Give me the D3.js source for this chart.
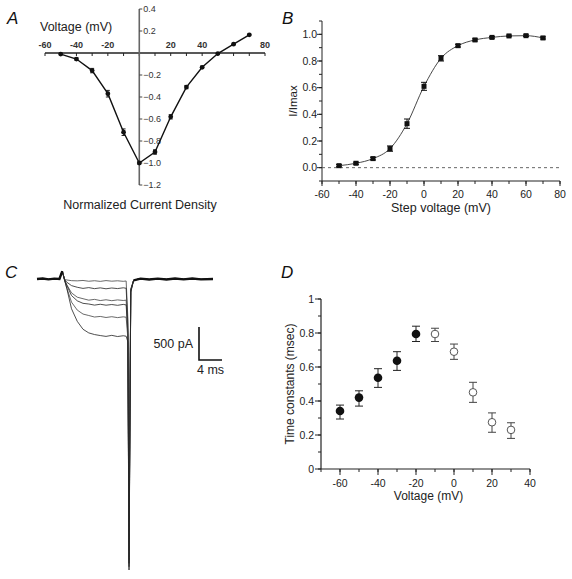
<!DOCTYPE html>
<html><head><meta charset="utf-8">
<script src="https://cdn.jsdelivr.net/npm/d3@7"></script>
<style>
html,body{margin:0;padding:0;background:#fff;}
svg{display:block;font-family:"Liberation Sans",Arial,sans-serif;}
</style></head>
<body>
<svg id="c" width="572" height="579"></svg>
<script>
// ---------- Panel A: I-V relation ----------
const ivVoltage = [-50, -40, -30, -20, -10, 0, 10, 20, 30, 40, 50, 60, 70];
const ivCurrent = [-0.01, -0.055, -0.16, -0.37, -0.72, -1.0, -0.90, -0.58, -0.31, -0.13, -0.005, 0.08, 0.165];
const ivErr     = [0.005, 0.01, 0.02, 0.03, 0.03, 0.01, 0.02, 0.02, 0.015, 0.01, 0.005, 0.005, 0.005];
const aXLabels = [-60, -40, -20, 20, 40, 80];
const aYLabels = [0.4, 0.2, -0.2, -0.4, -0.6, -0.8, -1.0, -1.2];

// ---------- Panel B: activation ----------
const actVoltage = [-50, -40, -30, -20, -10, 0, 10, 20, 30, 40, 50, 60, 70];
const actValue   = [0.015, 0.033, 0.068, 0.143, 0.33, 0.61, 0.82, 0.915, 0.958, 0.977, 0.988, 0.99, 0.973];
const actErr     = [0.008, 0.008, 0.01, 0.02, 0.035, 0.03, 0.02, 0.01, 0.008, 0.006, 0.006, 0.006, 0.008];
const bXTicks = [-60, -40, -20, 0, 20, 40, 60, 80];
const bYTicks = [0.0, 0.2, 0.4, 0.6, 0.8, 1.0];

// ---------- Panel C: current traces (time ms, current pA) ----------
const traceTime = [0, 1, 2, 3, 3.9, 4.4, 4.8, 5.2, 6, 7, 8, 9, 10, 11, 12, 13, 14, 15, 15.5, 15.8, 16.0, 16.3, 16.8, 18, 19.5, 21, 22.5, 24, 25.5, 27, 28.5, 30.6];
const traces = [
  [0, 8, -6, 6, 0, 120, -5, -15, -25, -28, -22, -34, -26, -36, -24, -33, -27, -35, -30, -600, -3900, -150, -20, 6, -8, 5, -7, 8, -5, 7, -6, 0],
  [0, 8, -6, 6, 0, 120, -10, -50, -100, -125, -142, -130, -146, -134, -148, -136, -145, -133, -140, -700, -4100, -160, -20, 6, -8, 5, -7, 8, -5, 7, -6, 0],
  [0, 8, -6, 6, 0, 120, -15, -90, -210, -275, -298, -320, -308, -326, -314, -328, -316, -325, -320, -800, -4250, -170, -20, 6, -8, 5, -7, 8, -5, 7, -6, 0],
  [0, 8, -6, 6, 0, 120, -15, -100, -250, -330, -368, -378, -395, -382, -396, -386, -398, -384, -392, -850, -4300, -180, -20, 6, -8, 5, -7, 8, -5, 7, -6, 0],
  [0, 8, -6, 6, 0, 120, -20, -140, -350, -470, -530, -552, -575, -566, -582, -570, -584, -572, -578, -900, -4350, -190, -20, 6, -8, 5, -7, 8, -5, 7, -6, 0],
  [0, 8, -6, 6, 0, 120, -20, -150, -450, -640, -760, -815, -840, -855, -868, -852, -870, -858, -865, -950, -4400, -200, -20, 6, -8, 5, -7, 8, -5, 7, -6, 0]
];
const scaleBarPA = 500;
const scaleBarMS = 4;

// ---------- Panel D: time constants ----------
const tauVoltFilled = [-60, -50, -40, -30, -20];
const tauFilled     = [0.341, 0.42, 0.537, 0.637, 0.794];
const tauFilledLo   = [0.294, 0.37, 0.48, 0.58, 0.75];
const tauFilledHi   = [0.376, 0.46, 0.59, 0.69, 0.84];
const tauVoltOpen = [-10, 0, 10, 20, 30];
const tauOpen     = [0.794, 0.69, 0.451, 0.275, 0.23];
const tauOpenLo   = [0.75, 0.645, 0.392, 0.216, 0.18];
const tauOpenHi   = [0.828, 0.735, 0.51, 0.33, 0.272];
const dXTicks = [-60, -40, -20, 0, 20, 40];
const dYTicks = [0, 0.2, 0.4, 0.6, 0.8, 1];

const svg = d3.select("#c");

function panelLetter(t, x, y) {
  svg.append("text").attr("x", x).attr("y", y).text(t)
    .attr("font-size", 17).attr("font-style", "italic").attr("fill", "#111");
}

// ===== Panel A =====
{
  const x = d3.scaleLinear([-60, 80], [45, 265]);
  const y = d3.scaleLinear([0.4, -1.2], [9, 185]);
  const g = svg.append("g");
  g.append("line").attr("x1", x(-60)).attr("x2", x(80)).attr("y1", y(0)).attr("y2", y(0))
    .attr("stroke", "#222").attr("stroke-width", 1.3);
  g.selectAll(".xt").data(d3.range(-60, 81, 10)).join("line")
    .attr("x1", d => x(d)).attr("x2", d => x(d)).attr("y1", y(0)).attr("y2", y(0) + 3)
    .attr("stroke", "#222").attr("stroke-width", 1);
  g.selectAll(".xl").data(aXLabels).join("text")
    .attr("x", d => x(d)).attr("y", y(0) - 5).attr("text-anchor", "middle")
    .attr("font-size", 9).attr("font-weight", "bold").attr("fill", "#333").text(d => d);
  g.append("line").attr("x1", x(0)).attr("x2", x(0)).attr("y1", y(0.4)).attr("y2", y(-1.2))
    .attr("stroke", "#666").attr("stroke-width", 1.6);
  g.selectAll(".yt").data(aYLabels).join("line")
    .attr("x1", x(0)).attr("x2", x(0) + 3).attr("y1", d => y(d)).attr("y2", d => y(d))
    .attr("stroke", "#444");
  g.selectAll(".yl").data(aYLabels).join("text")
    .attr("x", x(0) + 4).attr("y", d => y(d)).attr("dy", "0.35em")
    .attr("font-size", 9).attr("fill", "#333").text(d => d3.format(".1f")(d));
  const pts = ivVoltage.map((v, i) => [v, ivCurrent[i], ivErr[i]]);
  g.append("path").datum(pts).attr("fill", "none").attr("stroke", "#111").attr("stroke-width", 1.4)
    .attr("d", d3.line().x(d => x(d[0])).y(d => y(d[1])));
  g.selectAll(".eb").data(pts).join("path").attr("fill", "none").attr("stroke", "#111").attr("stroke-width", 0.9)
    .attr("d", d => `M${x(d[0]) - 2},${y(d[1] + d[2])}H${x(d[0]) + 2}M${x(d[0])},${y(d[1] + d[2])}V${y(d[1] - d[2])}M${x(d[0]) - 2},${y(d[1] - d[2])}H${x(d[0]) + 2}`);
  g.selectAll(".pt").data(pts).join("circle").attr("cx", d => x(d[0])).attr("cy", d => y(d[1]))
    .attr("r", 2.4).attr("fill", "#111");
  g.append("text").attr("x", 40).attr("y", 31).attr("font-size", 12.5).attr("fill", "#222").text("Voltage (mV)");
  g.append("text").attr("x", 140).attr("y", 209).attr("text-anchor", "middle").attr("font-size", 12.5)
    .attr("fill", "#222").text("Normalized Current Density");
  panelLetter("A", 7, 24);
}

// ===== Panel B =====
{
  const x = d3.scaleLinear([-60, 80], [322, 560]);
  const y = d3.scaleLinear([-0.1, 1.1], [181, 21]);
  const g = svg.append("g");
  g.append("line").attr("x1", x(-60)).attr("x2", x(-60)).attr("y1", y(1.1)).attr("y2", y(-0.1)).attr("stroke", "#222");
  g.append("line").attr("x1", x(-60)).attr("x2", x(80)).attr("y1", y(-0.1)).attr("y2", y(-0.1)).attr("stroke", "#222");
  g.selectAll(".ymt").data(d3.range(-0.1, 1.11, 0.1)).join("line")
    .attr("x1", x(-60) - 3).attr("x2", x(-60)).attr("y1", d => y(d)).attr("y2", d => y(d)).attr("stroke", "#222");
  g.selectAll(".yt").data(bYTicks).join("line")
    .attr("x1", x(-60) - 5).attr("x2", x(-60)).attr("y1", d => y(d)).attr("y2", d => y(d)).attr("stroke", "#222");
  g.selectAll(".yl").data(bYTicks).join("text").attr("x", x(-60) - 5).attr("y", d => y(d)).attr("dy", "0.35em")
    .attr("text-anchor", "end").attr("font-size", 10.5).attr("fill", "#222").text(d => d3.format(".1f")(d));
  g.selectAll(".xmt").data(d3.range(-60, 81, 10)).join("line")
    .attr("x1", d => x(d)).attr("x2", d => x(d)).attr("y1", y(-0.1)).attr("y2", y(-0.1) + 3).attr("stroke", "#222");
  g.selectAll(".xt").data(bXTicks).join("line")
    .attr("x1", d => x(d)).attr("x2", d => x(d)).attr("y1", y(-0.1)).attr("y2", y(-0.1) + 5).attr("stroke", "#222");
  g.selectAll(".xl").data(bXTicks).join("text").attr("x", d => x(d)).attr("y", y(-0.1) + 17)
    .attr("text-anchor", "middle").attr("font-size", 10.5).attr("fill", "#222").text(d => d);
  g.append("line").attr("x1", x(-60)).attr("x2", x(80)).attr("y1", y(0)).attr("y2", y(0))
    .attr("stroke", "#555").attr("stroke-dasharray", "3,3").attr("stroke-width", 0.9);
  const pts = actVoltage.map((v, i) => [v, actValue[i], actErr[i]]);
  g.append("path").datum(pts).attr("fill", "none").attr("stroke", "#333").attr("stroke-width", 0.9)
    .attr("d", d3.line().curve(d3.curveMonotoneX).x(d => x(d[0])).y(d => y(d[1])));
  g.selectAll(".eb").data(pts).join("path").attr("fill", "none").attr("stroke", "#111").attr("stroke-width", 1)
    .attr("d", d => `M${x(d[0]) - 3},${y(d[1] + d[2])}H${x(d[0]) + 3}M${x(d[0])},${y(d[1] + d[2])}V${y(d[1] - d[2])}M${x(d[0]) - 3},${y(d[1] - d[2])}H${x(d[0]) + 3}`);
  g.selectAll(".pt").data(pts).join("rect").attr("x", d => x(d[0]) - 2.5).attr("y", d => y(d[1]) - 2.5)
    .attr("width", 5).attr("height", 5).attr("fill", "#111");
  g.append("text").attr("transform", `translate(297,${(y(1.1) + y(-0.1)) / 2}) rotate(-90)`)
    .attr("text-anchor", "middle").attr("font-size", 11.5).attr("fill", "#222").text("I/Imax");
  g.append("text").attr("x", (x(-60) + x(80)) / 2).attr("y", 212).attr("text-anchor", "middle")
    .attr("font-size", 12.5).attr("fill", "#222").text("Step voltage (mV)");
  panelLetter("B", 282, 24);
}

// ===== Panel C =====
{
  const x = d3.scaleLinear([0, 30.6], [37, 213]);
  const y = d3.scaleLinear([0, -4400], [279, 570]);
  const g = svg.append("g");
  const line = d3.line().x((d, i) => x(traceTime[i])).y(d => y(d));
  traces.forEach((tr, k) => {
    g.append("path").datum(tr).attr("fill", "none").attr("stroke", k % 2 ? "#222" : "#444")
      .attr("stroke-width", 0.8).attr("d", line);
  });
  const base = traces[0];
  const lineSeg = (i0, i1) => d3.line().x(i => x(traceTime[i])).y(i => y(base[i]))(d3.range(i0, i1 + 1));
  g.append("path").attr("fill", "none").attr("stroke", "#111").attr("stroke-width", 2.4).attr("d", lineSeg(0, 5));
  g.append("path").attr("fill", "none").attr("stroke", "#111").attr("stroke-width", 2.4).attr("d", lineSeg(22, traceTime.length - 1));
  const sx = 199, sy = 327;
  const h = y(-scaleBarPA) - y(0), w = x(scaleBarMS) - x(0);
  g.append("path").attr("fill", "none").attr("stroke", "#111").attr("stroke-width", 1.6)
    .attr("d", `M${sx},${sy}V${sy + h}H${sx + w}`);
  g.append("text").attr("x", sx - 6).attr("y", sy + h / 2 + 4).attr("text-anchor", "end")
    .attr("font-size", 12.5).attr("fill", "#222").text(scaleBarPA + " pA");
  g.append("text").attr("x", sx + w / 2).attr("y", sy + h + 14).attr("text-anchor", "middle")
    .attr("font-size", 12.5).attr("fill", "#222").text(scaleBarMS + " ms");
  panelLetter("C", 5, 278);
}

// ===== Panel D =====
{
  const x = d3.scaleLinear([-70, 40], [321, 530]);
  const y = d3.scaleLinear([0, 1], [469, 299]);
  const g = svg.append("g");
  g.append("line").attr("x1", x(-70)).attr("x2", x(-70)).attr("y1", y(1)).attr("y2", y(0)).attr("stroke", "#222").attr("stroke-width", 1.2);
  g.append("line").attr("x1", x(-70)).attr("x2", x(40)).attr("y1", y(0)).attr("y2", y(0)).attr("stroke", "#222").attr("stroke-width", 1.2);
  g.selectAll(".ymt").data(d3.range(0, 1.01, 0.1)).join("line")
    .attr("x1", x(-70) - 3).attr("x2", x(-70)).attr("y1", d => y(d)).attr("y2", d => y(d)).attr("stroke", "#222");
  g.selectAll(".yt").data(dYTicks).join("line")
    .attr("x1", x(-70) - 6).attr("x2", x(-70)).attr("y1", d => y(d)).attr("y2", d => y(d)).attr("stroke", "#222");
  g.selectAll(".yl").data(dYTicks).join("text").attr("x", x(-70) - 7).attr("y", d => y(d)).attr("dy", "0.35em")
    .attr("text-anchor", "end").attr("font-size", 10.5).attr("fill", "#222").text(d => d);
  g.selectAll(".xmt").data(d3.range(-70, 41, 10)).join("line")
    .attr("x1", d => x(d)).attr("x2", d => x(d)).attr("y1", y(0)).attr("y2", y(0) + 3).attr("stroke", "#222");
  g.selectAll(".xt").data(dXTicks).join("line")
    .attr("x1", d => x(d)).attr("x2", d => x(d)).attr("y1", y(0)).attr("y2", y(0) + 6).attr("stroke", "#222");
  g.selectAll(".xl").data(dXTicks).join("text").attr("x", d => x(d)).attr("y", y(0) + 18)
    .attr("text-anchor", "middle").attr("font-size", 10.5).attr("fill", "#222").text(d => d);
  const eb = (sel, col) => sel.attr("fill", "none").attr("stroke", col).attr("stroke-width", 1)
    .attr("d", d => `M${x(d.v) - 4},${y(d.hi)}H${x(d.v) + 4}M${x(d.v)},${y(d.hi)}V${y(d.lo)}M${x(d.v) - 4},${y(d.lo)}H${x(d.v) + 4}`);
  const filled = tauVoltFilled.map((v, i) => ({v, m: tauFilled[i], lo: tauFilledLo[i], hi: tauFilledHi[i]}));
  const open = tauVoltOpen.map((v, i) => ({v, m: tauOpen[i], lo: tauOpenLo[i], hi: tauOpenHi[i]}));
  eb(g.selectAll(".ebf").data(filled).join("path"), "#222");
  eb(g.selectAll(".ebo").data(open).join("path"), "#444");
  g.selectAll(".pf").data(filled).join("circle").attr("cx", d => x(d.v)).attr("cy", d => y(d.m))
    .attr("r", 4.3).attr("fill", "#111");
  g.selectAll(".po").data(open).join("circle").attr("cx", d => x(d.v)).attr("cy", d => y(d.m))
    .attr("r", 3.8).attr("fill", "#fff").attr("stroke", "#555").attr("stroke-width", 1);
  g.append("text").attr("transform", `translate(294,${(y(0) + y(1)) / 2}) rotate(-90)`)
    .attr("text-anchor", "middle").attr("font-size", 12).attr("fill", "#222").text("Time constants (msec)");
  g.append("text").attr("x", (x(-70) + x(40)) / 2 + 3).attr("y", 500).attr("text-anchor", "middle")
    .attr("font-size", 12).attr("fill", "#222").text("Voltage (mV)");
  panelLetter("D", 281, 278);
}
</script>
</body></html>
